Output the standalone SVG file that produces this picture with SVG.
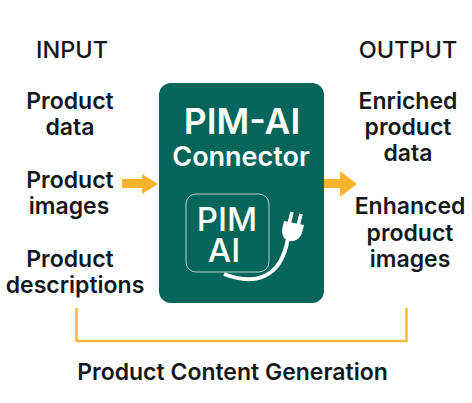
<svg xmlns="http://www.w3.org/2000/svg" width="472" height="403" viewBox="0 0 472 403">
<style>
text{font-family:Inter,"Liberation Sans",sans-serif;fill:#15191e;text-anchor:middle;font-weight:600;font-size:23px}
.h{font-weight:500;font-size:23.500px}
.w{fill:#fff;font-weight:600}
.a{fill:#fbb32b}
.l{fill:none;stroke:#f6b93b;stroke-width:2.500}
</style>
<rect width="472" height="403" fill="#fff"/>
<g id="connectors">
<path class="a" d="M122 179H142V174L158 184L142 194V188H122Z"/>
<path class="a" d="M323 179H340V171L357 184L340 197V188H323Z"/>
<path class="l" d="M76.500 308V341H406.500V308"/>
</g>
<g id="input-title"><text class="h" x="72" y="58">INPUT</text></g>
<g id="input-data"><text x="70" y="109">Product</text><text x="70" y="135">data</text></g>
<g id="input-images"><text x="70" y="188">Product</text><text x="69" y="214">images</text></g>
<g id="input-descriptions"><text x="70" y="267">Product</text><text x="75" y="293">descriptions</text></g>
<g id="output-title"><text class="h" x="408" y="58">OUTPUT</text></g>
<g id="output-data"><text x="408" y="109">Enriched</text><text x="408" y="135">product</text><text x="408" y="161">data</text></g>
<g id="output-images"><text x="410" y="214">Enhanced</text><text x="410" y="241">product</text><text x="410" y="267">images</text></g>
<g id="connector-node">
<rect x="159" y="83" width="165" height="220" rx="12" fill="#04655a"/>
<text class="w" x="242" y="134" style="font-size:35.500px">PIM-AI</text>
<text class="w" x="241" y="166" style="font-size:27px">Connector</text>
<rect x="186" y="194" width="83" height="78" rx="10" fill="none" stroke="#b9d3cd" stroke-width="1"/>
<text class="w" style="font-size:33px;font-weight:500"><tspan x="227" y="231">PIM</tspan><tspan x="224" y="262">AI</tspan></text>
<g id="plug">
<path d="M224 274C252 285 281 281 288 238" fill="none" stroke="#fff" stroke-width="4"/>
<path d="M289 241C284 240 282 235 282 230L284 221L304 225L302 233C300 238 296 242 289 241Z" fill="#fff"/>
<path d="M289 224L292 212M298 226L301 214" stroke="#fff" stroke-width="3.500"/>
</g>
</g>
<g id="footer"><text x="232.500" y="380">Product Content Generation</text></g>
</svg>
